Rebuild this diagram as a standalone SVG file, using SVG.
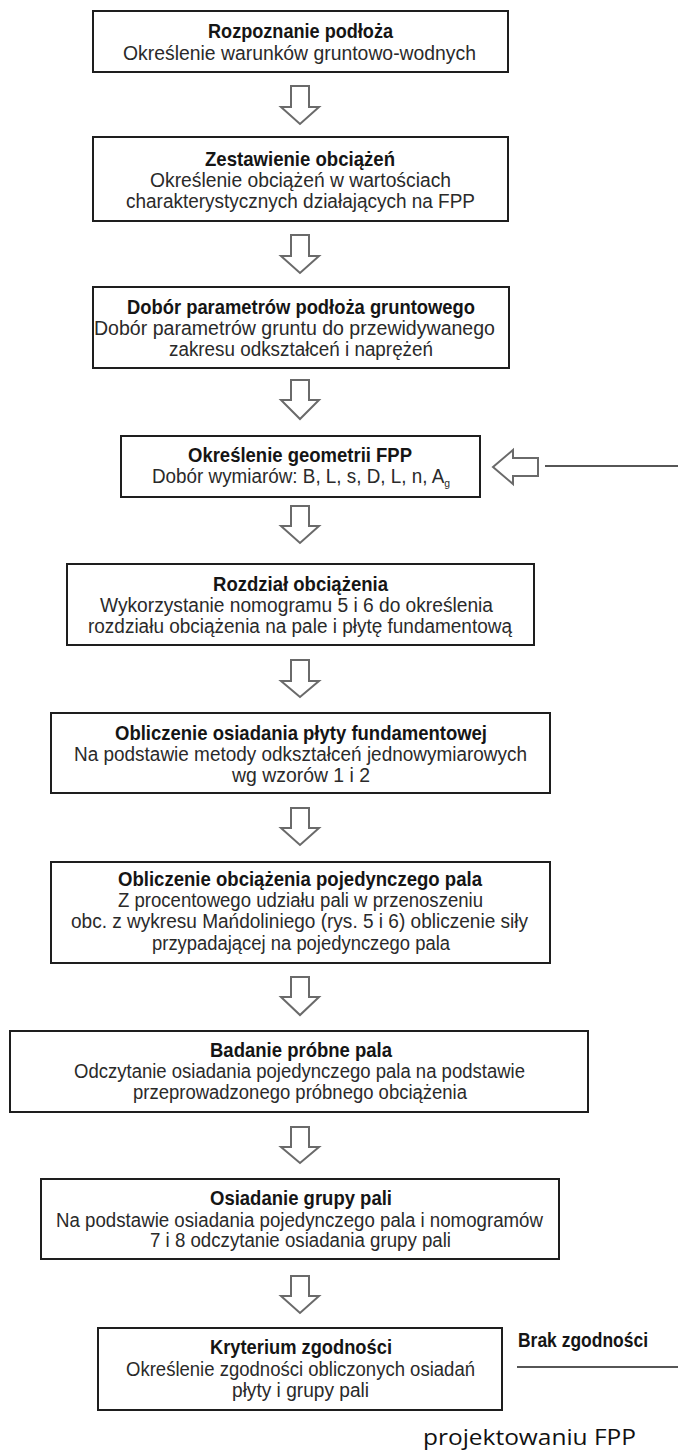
<svg xmlns="http://www.w3.org/2000/svg" width="678" height="1450" viewBox="0 0 678 1450">
<style>
.box{fill:#fff;stroke:#1e1e1e;stroke-width:2}
.t{font-family:"Liberation Sans",Arial,sans-serif;font-weight:bold;font-size:21px;fill:#151515}
.s{font-family:"Liberation Sans",Arial,sans-serif;font-size:20px;fill:#2a2a2a}
.arr{fill:#fff;stroke:#6a6a6a;stroke-width:2;stroke-linejoin:miter}
.ln{stroke:#1e1e1e;stroke-width:1.6;fill:none}
.note{font-family:"Open Sans","Noto Sans",sans-serif;font-size:22px;fill:#111}
</style>
<rect width="678" height="1450" fill="#fff"/>
<g id="connectors">
<path class="arr" d="M291,86H309V107H319L300,124L281,107H291Z"/>
<path class="arr" d="M291,235H309V256H319L300,273L281,256H291Z"/>
<path class="arr" d="M291,380H309V400H319L300,419L281,400H291Z"/>
<path class="arr" d="M291,506H309V526H319L300,543L281,526H291Z"/>
<path class="arr" d="M291,660H309V681H319L300,697L281,681H291Z"/>
<path class="arr" d="M291,808H309V828H319L300,845L281,828H291Z"/>
<path class="arr" d="M291,977H309V997H319L300,1015L281,997H291Z"/>
<path class="arr" d="M291,1127H309V1147H319L300,1163L281,1147H291Z"/>
<path class="arr" d="M291,1276H309V1296H319L300,1313L281,1296H291Z"/>
<path class="arr" d="M493,467L513,450V458H538V476H513V484Z"/>
<line class="ln" x1="545" y1="466" x2="678" y2="466"/>
<line class="ln" x1="517" y1="1367" x2="678" y2="1367"/>
<text class="t" x="518" y="1347" font-size="19" textLength="130" lengthAdjust="spacingAndGlyphs">Brak zgodności</text>
</g>
<g id="n1">
<rect class="box" x="93" y="11" width="415" height="61"/>
<text class="t" x="208" y="38" textLength="185" lengthAdjust="spacingAndGlyphs">Rozpoznanie podłoża</text>
<text class="s" x="123" y="60" textLength="353" lengthAdjust="spacingAndGlyphs">Określenie warunków gruntowo-wodnych</text>
</g>
<g id="n2">
<rect class="box" x="93" y="137" width="415" height="84"/>
<text class="t" x="205" y="166" textLength="190" lengthAdjust="spacingAndGlyphs">Zestawienie obciążeń</text>
<text class="s" x="150" y="187" textLength="301" lengthAdjust="spacingAndGlyphs">Określenie obciążeń w wartościach</text>
<text class="s" x="126" y="208" textLength="349" lengthAdjust="spacingAndGlyphs">charakterystycznych działających na FPP</text>
</g>
<g id="n3">
<rect class="box" x="93" y="287" width="416" height="81"/>
<text class="t" x="127" y="314" textLength="348" lengthAdjust="spacingAndGlyphs">Dobór parametrów podłoża gruntowego</text>
<text class="s" x="94" y="335" textLength="401" lengthAdjust="spacingAndGlyphs">Dobór parametrów gruntu do przewidywanego</text>
<text class="s" x="169" y="356" textLength="264" lengthAdjust="spacingAndGlyphs">zakresu odkształceń i naprężeń</text>
</g>
<g id="n4">
<rect class="box" x="121" y="436" width="359" height="61"/>
<text class="t" x="188" y="462" textLength="224" lengthAdjust="spacingAndGlyphs">Określenie geometrii FPP</text>
<text class="s" x="152" y="483" textLength="298" lengthAdjust="spacingAndGlyphs">Dobór wymiarów: B, L, s, D, L, n, A<tspan font-size="11" dy="4">g</tspan></text>
</g>
<g id="n5">
<rect class="box" x="67" y="564" width="467" height="81"/>
<text class="t" x="213" y="591" textLength="175" lengthAdjust="spacingAndGlyphs">Rozdział obciążenia</text>
<text class="s" x="100" y="612" textLength="393" lengthAdjust="spacingAndGlyphs">Wykorzystanie nomogramu 5 i 6 do określenia</text>
<text class="s" x="88" y="633" textLength="424" lengthAdjust="spacingAndGlyphs">rozdziału obciążenia na pale i płytę fundamentową</text>
</g>
<g id="n6">
<rect class="box" x="51" y="713" width="499" height="80"/>
<text class="t" x="115" y="740" textLength="372" lengthAdjust="spacingAndGlyphs">Obliczenie osiadania płyty fundamentowej</text>
<text class="s" x="74" y="761" textLength="453" lengthAdjust="spacingAndGlyphs">Na podstawie metody odkształceń jednowymiarowych</text>
<text class="s" x="232" y="782" textLength="138" lengthAdjust="spacingAndGlyphs">wg wzorów 1 i 2</text>
</g>
<g id="n7">
<rect class="box" x="51" y="862" width="499" height="101"/>
<text class="t" x="118" y="886" textLength="364" lengthAdjust="spacingAndGlyphs">Obliczenie obciążenia pojedynczego pala</text>
<text class="s" x="118" y="907" textLength="365" lengthAdjust="spacingAndGlyphs">Z procentowego udziału pali w przenoszeniu</text>
<text class="s" x="71" y="928" textLength="457" lengthAdjust="spacingAndGlyphs">obc. z wykresu Mańdoliniego (rys. 5 i 6) obliczenie siły</text>
<text class="s" x="152" y="950" textLength="298" lengthAdjust="spacingAndGlyphs">przypadającej na pojedynczego pala</text>
</g>
<g id="n8">
<rect class="box" x="10" y="1031" width="578" height="81"/>
<text class="t" x="210" y="1057" textLength="182" lengthAdjust="spacingAndGlyphs">Badanie próbne pala</text>
<text class="s" x="74" y="1078" textLength="451" lengthAdjust="spacingAndGlyphs">Odczytanie osiadania pojedynczego pala na podstawie</text>
<text class="s" x="133" y="1099" textLength="334" lengthAdjust="spacingAndGlyphs">przeprowadzonego próbnego obciążenia</text>
</g>
<g id="n9">
<rect class="box" x="41" y="1179" width="518" height="80"/>
<text class="t" x="210" y="1205" textLength="182" lengthAdjust="spacingAndGlyphs">Osiadanie grupy pali</text>
<text class="s" x="56" y="1227" textLength="487" lengthAdjust="spacingAndGlyphs">Na podstawie osiadania pojedynczego pala i nomogramów</text>
<text class="s" x="150" y="1247" textLength="301" lengthAdjust="spacingAndGlyphs">7 i 8 odczytanie osiadania grupy pali</text>
</g>
<g id="n10">
<rect class="box" x="98" y="1328" width="404" height="82"/>
<text class="t" x="210" y="1354" textLength="182" lengthAdjust="spacingAndGlyphs">Kryterium zgodności</text>
<text class="s" x="126" y="1376" textLength="349" lengthAdjust="spacingAndGlyphs">Określenie zgodności obliczonych osiadań</text>
<text class="s" x="232" y="1397" textLength="137" lengthAdjust="spacingAndGlyphs">płyty i grupy pali</text>
</g>
<text class="note" x="423" y="1445" textLength="213" lengthAdjust="spacingAndGlyphs">projektowaniu FPP</text>
</svg>
